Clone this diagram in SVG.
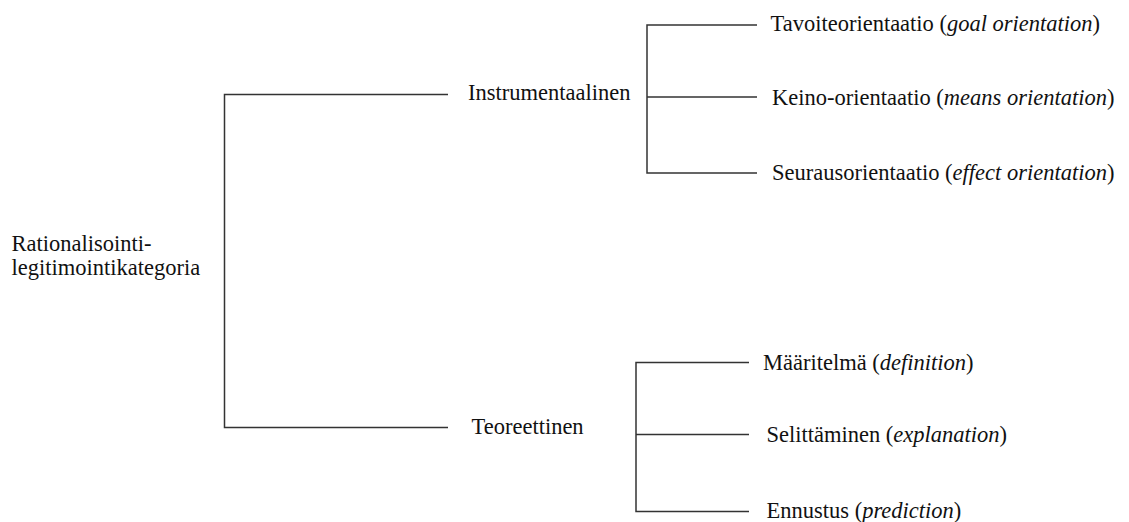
<svg xmlns="http://www.w3.org/2000/svg" width="1129" height="522" viewBox="0 0 1129 522">
<style>
.t{font-family:"Liberation Serif","Times New Roman",serif;font-size:22.5px;fill:#111}
.i{font-style:italic}
.c{fill:none;stroke:#333;stroke-width:1.5}
</style>
<rect width="1129" height="522" fill="#fff"/>
<g id="connectors">
<path class="c" d="M448 94.5H224.5V427.5H448"/>
<path class="c" d="M757 25H647V173H757M647 97H757"/>
<path class="c" d="M749 362.5H636V511.5H749M636 434.5H749"/>
</g>
<g id="root"><text class="t" x="11.5" y="251">Rationalisointi-</text><text class="t" x="11.5" y="274.5">legitimointikategoria</text></g>
<g id="instrumentaalinen"><text class="t" x="468" y="100">Instrumentaalinen</text></g>
<g id="teoreettinen"><text class="t" x="471.5" y="433.5">Teoreettinen</text></g>
<g id="tavoite"><text class="t" x="770.5" y="31">Tavoiteorientaatio (<tspan class="i">goal orientation</tspan>)</text></g>
<g id="keino"><text class="t" x="772" y="105">Keino-orientaatio (<tspan class="i">means orientation</tspan>)</text></g>
<g id="seuraus"><text class="t" x="772" y="180">Seurausorientaatio (<tspan class="i">effect orientation</tspan>)</text></g>
<g id="maaritelma"><text class="t" x="763" y="370">Määritelmä (<tspan class="i">definition</tspan>)</text></g>
<g id="selittaminen"><text class="t" x="766.5" y="442">Selittäminen (<tspan class="i">explanation</tspan>)</text></g>
<g id="ennustus"><text class="t" x="766.5" y="518">Ennustus (<tspan class="i">prediction</tspan>)</text></g>
</svg>
